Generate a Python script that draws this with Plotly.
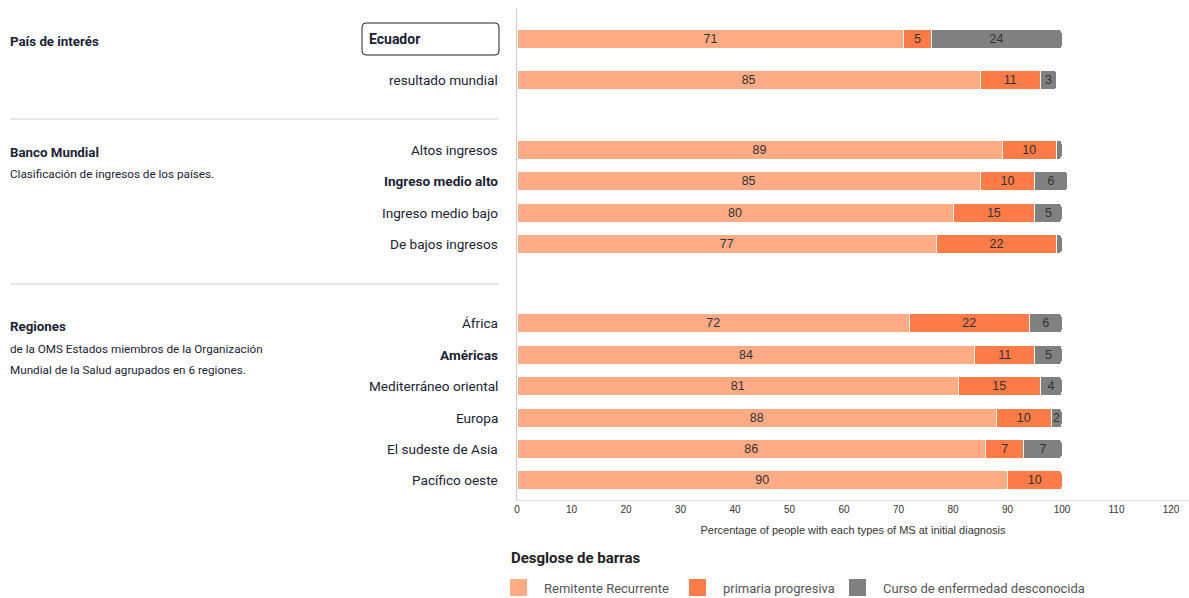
import plotly.graph_objects as go

# ---------------- data ----------------
categories = ["Ecuador", "resultado mundial",
              "Altos ingresos", "Ingreso medio alto", "Ingreso medio bajo", "De bajos ingresos",
              "África", "Américas", "Mediterráneo oriental", "Europa", "El sudeste de Asia", "Pacífico oeste"]
remitente = [71, 85, 89, 85, 80, 77, 72, 84, 81, 88, 86, 90]
primaria = [5, 11, 10, 10, 15, 22, 22, 11, 15, 10, 7, 10]
desconocido = [24, 3, 1, 6, 5, 1, 6, 5, 4, 2, 7, 0]
series_names = ["Remitente Recurrente", "primaria progresiva", "Curso de enfermedad desconocida"]
bold_rows = ["Ingreso medio alto", "Américas"]
x_ticks = [0, 10, 20, 30, 40, 50, 60, 70, 80, 90, 100, 110, 120]

# ---------------- layout helpers ----------------
W, H = 1189, 598
ML, MR, MT, MB = 517, 0, 8, 98
PW, PH = W - ML - MR, H - MT - MB
row_pos = [0, 1.31, 3.53, 4.52, 5.54, 6.53, 9.05, 10.06, 11.05, 12.07, 13.06, 14.05]
y_range = [14.68, -0.99]
x_range = [0, PW / 5.45]

def px(xp):
    return (xp - ML) / PW

def py(yp):
    return 1 - (yp - MT) / PH

colors = ["#FFAB86", "#FF7B47", "#808080"]
label_font = "Roboto"
navy = "#1B2334"

fig = go.Figure()
for name, vals, col in zip(series_names, [remitente, primaria, desconocido], colors):
    fig.add_trace(go.Bar(
        y=row_pos, x=vals, name=name, orientation="h",
        marker=dict(color=col, line=dict(color="white", width=1)),
        width=0.6,
        text=[str(v) if v >= 2 else "" for v in vals],
        textposition="inside", insidetextanchor="middle", textangle=0,
        textfont=dict(family="Arial", size=12.5, color="#333333"),
        hoverinfo="x+name", showlegend=False,
    ))

annotations = []
# row labels
for cat, yv in zip(categories, row_pos):
    if cat == "Ecuador":
        annotations.append(dict(x=px(367), y=yv, xref="paper", yref="y", text="<b>Ecuador</b>",
                                showarrow=False, xanchor="left", yanchor="middle",
                                font=dict(family=label_font, size=14, color=navy)))
        continue
    t = f"<b>{cat}</b>" if cat in bold_rows else cat
    annotations.append(dict(x=px(500), y=yv, xref="paper", yref="y", text=t,
                            showarrow=False, xanchor="right", yanchor="middle",
                            font=dict(family=label_font, size=13.6, color=navy)))

# section titles
sections = [
    ("<b>País de interés</b>", 42, 13.3),
    ("<b>Banco Mundial</b>", 152, 13.3),
    ("Clasificación de ingresos de los países.", 174, 11.7),
    ("<b>Regiones</b>", 326, 13.3),
    ("de la OMS Estados miembros de la Organización", 349, 11.7),
    ("Mundial de la Salud agrupados en 6 regiones.", 370, 11.7),
]
for txt, yp, fs in sections:
    annotations.append(dict(x=px(8), y=py(yp), xref="paper", yref="paper", text=txt,
                            showarrow=False, xanchor="left", yanchor="middle",
                            font=dict(family=label_font, size=fs, color=navy)))

# rounded box around Ecuador
bx0, bx1, by0, by1, r = px(362), px(499), py(55), py(23), 4
rx, ry = r / PW, r / PH
box_path = (f"M {bx0+rx},{by0} L {bx1-rx},{by0} Q {bx1},{by0} {bx1},{by0+ry} "
            f"L {bx1},{by1-ry} Q {bx1},{by1} {bx1-rx},{by1} L {bx0+rx},{by1} "
            f"Q {bx0},{by1} {bx0},{by1-ry} L {bx0},{by0+ry} Q {bx0},{by0} {bx0+rx},{by0} Z")

shapes = [
    dict(type="path", xref="paper", yref="paper", path=box_path,
         line=dict(color="#222222", width=1), fillcolor="rgba(0,0,0,0)"),
    dict(type="line", xref="paper", yref="paper", x0=px(10), x1=px(499), y0=py(119), y1=py(119),
         line=dict(color="#CCCCCC", width=1)),
    dict(type="line", xref="paper", yref="paper", x0=px(10), x1=px(499), y0=py(284), y1=py(284),
         line=dict(color="#CCCCCC", width=1)),
]

# legend (drawn manually for exact placement)
annotations.append(dict(x=px(509), y=py(558), xref="paper", yref="paper",
                        text="<b>Desglose de barras</b>", showarrow=False,
                        xanchor="left", yanchor="middle",
                        font=dict(family=label_font, size=15, color="#222222")))
legend_x = [510, 689, 849]
for name, col, lx in zip(series_names, colors, legend_x):
    shapes.append(dict(type="rect", xref="paper", yref="paper",
                       x0=px(lx), x1=px(lx + 17), y0=py(596), y1=py(579),
                       line=dict(width=0), fillcolor=col))
    annotations.append(dict(x=px(lx + 32), y=py(588), xref="paper", yref="paper",
                            text=name, showarrow=False, xanchor="left", yanchor="middle",
                            font=dict(family=label_font, size=13, color="#555555")))

fig.update_layout(
    width=W, height=H,
    margin=dict(l=ML, r=MR, t=MT, b=MB),
    barmode="stack", barcornerradius=3,
    uniformtext=dict(minsize=12.5, mode="show"),
    plot_bgcolor="white", paper_bgcolor="white",
    xaxis=dict(range=x_range, tickvals=x_ticks, showgrid=False, zeroline=False,
               showline=True, linecolor="#DDDDDD", linewidth=1, ticks="",
               tickfont=dict(family="Arial", size=10, color="#333333"),
               title=dict(text="Percentage of people with each types of MS at initial diagnosis",
                          font=dict(family="Arial", size=11, color="#333333"), standoff=12),
               fixedrange=True),
    yaxis=dict(range=y_range, showticklabels=False, showgrid=False, zeroline=False,
               showline=True, linecolor="#CCCCCC", linewidth=1, ticks="", fixedrange=True),
    showlegend=False,
    annotations=annotations,
    shapes=shapes,
)

fig.write_html("out.html")
